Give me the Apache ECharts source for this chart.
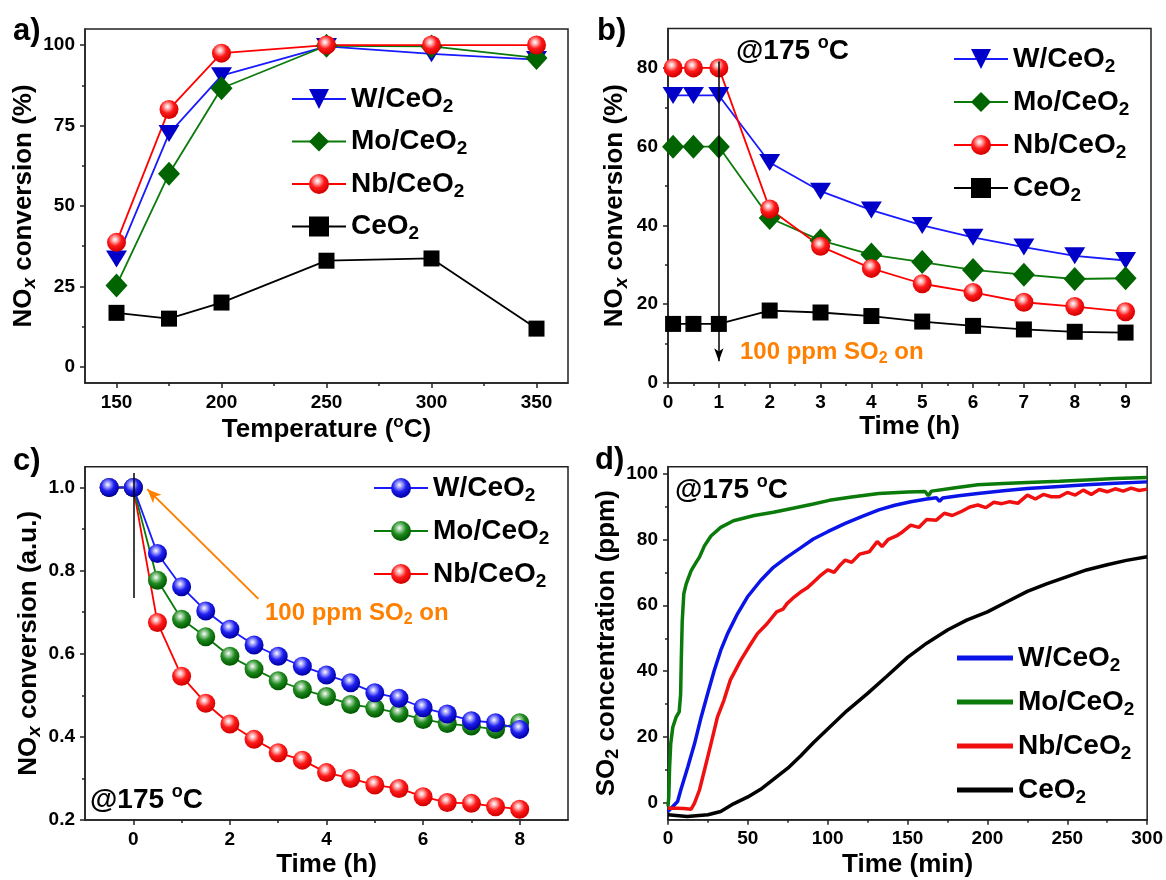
<!DOCTYPE html>
<html><head><meta charset="utf-8">
<script src="https://cdn.jsdelivr.net/npm/echarts@6/dist/echarts.min.js"></script>
<style>html,body{margin:0;padding:0;background:#fff}#c{width:1166px;height:880px}</style>
</head><body><div id="c"></div>
<script>
// ---------- Panel a: NOx conversion vs temperature ----------
const aTemp = [150, 175, 200, 250, 300, 350];
const aW  = [33.5, 72.5, 90.5, 99.6, 97.3, 95.5];
const aMo = [25.3, 60, 86.6, 99.8, 99.6, 96];
const aNb = [38.7, 80, 97.5, 100, 100, 100];
const aCe = [16.8, 15, 20, 33, 33.7, 11.9];
const aXTicks = [150, 200, 250, 300, 350];
const aXMinor = [175, 225, 275, 325];
const aYTicks = [0, 25, 50, 75, 100];
const aYMinor = [12.5, 37.5, 62.5, 87.5];

// ---------- Panel b: NOx conversion vs time (SO2 on at 1 h) ----------
const bTime = [0.1, 0.5, 1, 2, 3, 4, 5, 6, 7, 8, 9];
const bW  = [73, 73, 73, 56, 48.7, 43.9, 40, 37, 34.5, 32.3, 31.1];
const bMo = [60, 60, 60, 41.9, 36.2, 32.6, 30.7, 28.7, 27.5, 26.4, 26.6];
const bNb = [80, 80, 80, 44.2, 34.7, 29.1, 25.2, 23, 20.5, 19.4, 18.1];
const bCe = [15, 15, 15, 18.4, 17.9, 17, 15.6, 14.5, 13.6, 13, 12.8];
const bXTicks = [0, 1, 2, 3, 4, 5, 6, 7, 8, 9];
const bXMinor = [0.5, 1.5, 2.5, 3.5, 4.5, 5.5, 6.5, 7.5, 8.5];
const bYTicks = [0, 20, 40, 60, 80];
const bYMinor = [10, 30, 50, 70];
const bArrow = [[1, 81.6], [1, 5.5]];

// ---------- Panel c: normalized NOx conversion ----------
const cTime = [-0.5, 0, 0.5, 1, 1.5, 2, 2.5, 3, 3.5, 4, 4.5, 5, 5.5, 6, 6.5, 7, 7.5, 8];
const cW  = [1.0, 1.0, 0.841, 0.761, 0.703, 0.659, 0.621, 0.594, 0.570, 0.549, 0.530, 0.506, 0.493, 0.470, 0.455, 0.439, 0.434, 0.418];
const cMo = [1.0, 1.0, 0.777, 0.683, 0.641, 0.594, 0.563, 0.535, 0.514, 0.497, 0.478, 0.469, 0.457, 0.442, 0.432, 0.426, 0.418, 0.434];
const cNb = [1.0, 1.0, 0.675, 0.546, 0.481, 0.431, 0.394, 0.362, 0.344, 0.314, 0.300, 0.284, 0.276, 0.256, 0.242, 0.240, 0.232, 0.226];
const cXTicks = [0, 2, 4, 6, 8];
const cXMinor = [1, 3, 5, 7];
const cYTicks = [0.2, 0.4, 0.6, 0.8, 1.0];
const cYMinor = [0.3, 0.5, 0.7, 0.9];
const cVLine = [[0, 1.035], [0, 0.734]];
const cArrow = [[2.59, 0.732], [0.29, 0.996]];

// ---------- Panel d: SO2 breakthrough ----------
const dMoX = [0, 0.5, 1, 1.7, 3, 5, 7, 7.9, 8.3, 8.9, 9.9, 11.4, 14.5, 17.6, 19.7, 22.8, 26.9, 33, 41, 54, 66, 79, 91, 101, 115, 132, 150, 161, 163, 165, 180, 194, 210, 225, 245, 262, 280, 300];
const dMoY = [-1, 2, 11, 18, 23, 26, 27.7, 33, 43, 55, 63.5, 66.5, 70.5, 73, 74.6, 78, 81, 83.6, 85.6, 87.2, 88.2, 89.5, 90.7, 91.8, 92.8, 93.9, 94.3, 94.5, 93.2, 94.6, 95.6, 96.5, 96.9, 97.2, 97.6, 98, 98.4, 98.7];
const dWX = [0, 3, 6, 8, 12.4, 16.6, 20.7, 24.8, 29, 33, 37.3, 43.5, 49.7, 58, 66, 74.5, 83, 91, 100, 111, 122, 132, 142, 152, 162, 168, 170, 172, 182, 194, 210, 225, 245, 262, 280, 300];
const dWY = [-2.5, -1, 0.5, 4, 11, 18, 26, 33.2, 40.3, 46.3, 51.4, 57.4, 62.5, 67.5, 71.5, 74.6, 77.4, 80.1, 82.3, 84.8, 87, 88.9, 90.3, 91.4, 92.2, 92.6, 91.5, 92.5, 93.2, 93.9, 94.7, 95.4, 96, 96.5, 97, 97.4];
const dNbX = [0, 6, 10, 14.5, 16.6, 19.7, 22.8, 26.9, 31, 35, 39, 45.5, 52, 56, 62, 68, 72, 74.5, 79, 83, 87, 91, 95, 100, 104, 108, 111, 115, 120, 126, 131, 134, 138, 143, 147, 152, 157, 162, 168, 173, 178, 184, 189, 194, 199, 204, 209, 214, 219, 225, 230, 235, 240, 245, 250, 255, 260, 265, 270, 275, 280, 285, 290, 295, 300];
const dNbY = [-1.5, -1.5, -1.6, -1.8, 0, 4, 10, 18, 26.2, 31.2, 37.3, 43.3, 48.4, 51.4, 54.4, 58, 58.8, 60.5, 62.5, 64, 65.2, 67, 68.8, 70.7, 70, 72.3, 73.7, 73, 75.5, 76.2, 79.3, 77.8, 80, 81, 82.3, 84.3, 83.6, 86, 85.8, 87.9, 87.2, 88.5, 89.8, 90.4, 89.6, 91.2, 90.8, 91.4, 90.9, 93.4, 92.2, 93.6, 92.9, 92.9, 94.2, 93.4, 94.9, 93.6, 95.1, 94.4, 95.3, 94.6, 95.5, 94.8, 95.2];
const dCeX = [0, 12, 25, 33, 41, 50, 58, 66, 75, 83, 91, 100, 112, 125, 137, 150, 162, 175, 187, 200, 212, 225, 237, 250, 262, 275, 287, 300];
const dCeY = [-3.5, -4, -3.5, -2.5, -0.2, 1.9, 4.2, 7.2, 10.6, 14.3, 18.3, 22.5, 28, 33.3, 38.5, 44.2, 48.5, 52.5, 55.5, 58, 61, 64.2, 66.5, 68.7, 70.7, 72.3, 73.6, 74.7];
const dXTicks = [0, 50, 100, 150, 200, 250, 300];
const dXMinor = [25, 75, 125, 175, 225, 275];
const dYTicks = [0, 20, 40, 60, 80, 100];
const dYMinor = [10, 30, 50, 70, 90];

// ---------- helpers ----------
const FONT = 'Liberation Sans';
const AX = '#222';
const zip = (xs, ys) => xs.map((x, i) => [x, ys[i]]);
const sphere = (light, mid, dark) => ({
  type: 'radial', x: 0.42, y: 0.35, r: 0.62,
  colorStops: [{offset: 0, color: '#ffffff'}, {offset: 0.18, color: light}, {offset: 0.55, color: mid}, {offset: 1, color: dark}]
});
const RED_S = sphere('#ffc0c0', '#ff1a1a', '#d40000');
const BLUE_S = sphere('#b4b4ff', '#2020f0', '#0000a8');
const GREEN_S = sphere('#b0d8b0', '#1f8a1f', '#005a00');

const NAME_RICH = {
  b: {fontFamily: FONT, fontWeight: 'bold', fontSize: 26, color: '#000'},
  x: {fontFamily: FONT, fontWeight: 'bold', fontStyle: 'italic', fontSize: 19, color: '#000', padding: [13, 0, 0, 0]},
  s: {fontFamily: FONT, fontWeight: 'bold', fontSize: 18, color: '#000', padding: [14, 0, 0, 0]},
  o: {fontFamily: FONT, fontWeight: 'bold', fontSize: 17, color: '#000', padding: [0, 0, 14, 0]}
};

const xAxes = [], yAxes = [], grids = [];
function panel(gi, left, top, w, h, x, y) {
  grids.push({left, top, width: w, height: h, show: true, borderColor: AX, borderWidth: 1.5, backgroundColor: 'transparent'});
  const mk = (o, isY) => {
    const main = {
      type: 'value', gridIndex: gi, min: o.min, max: o.max, position: isY ? 'left' : 'bottom',
      axisLine: {show: true, onZero: false, lineStyle: {color: AX, width: 1.5}},
      axisTick: {show: true, customValues: o.ticks, length: 5, lineStyle: {color: AX, width: 1.5}},
      axisLabel: {show: true, customValues: o.ticks, formatter: o.fmt, margin: 10, fontFamily: FONT, fontWeight: 'bold', fontSize: 19, color: '#000'},
      splitLine: {show: false},
      name: o.name, nameLocation: 'middle', nameGap: o.gap,
      nameTextStyle: {fontFamily: FONT, fontWeight: 'bold', fontSize: 26, color: '#000', rich: NAME_RICH}
    };
    const minor = {
      type: 'value', gridIndex: gi, min: o.min, max: o.max, position: isY ? 'left' : 'bottom',
      axisLine: {show: false, onZero: false},
      axisTick: {show: true, customValues: o.minor, length: 3, lineStyle: {color: AX, width: 1.5}},
      axisLabel: {show: false}, splitLine: {show: false}
    };
    return [main, minor];
  };
  xAxes.push(...mk(x, false));
  yAxes.push(...mk(y, true));
}

panel(0, 85, 29, 483, 354,
  {min: 135, max: 365, ticks: aXTicks, minor: aXMinor, fmt: v => String(v), name: '{b|Temperature (}{o|o}{b|C)}', gap: 31},
  {min: -5, max: 105, ticks: aYTicks, minor: aYMinor, fmt: v => String(v), name: '{b|NO}{x|x}{b| conversion (%)}', gap: 40});
panel(1, 668, 28.5, 483, 354.5,
  {min: 0, max: 9.5, ticks: bXTicks, minor: bXMinor, fmt: v => String(v), name: '{b|Time (h)}', gap: 31},
  {min: 0, max: 90, ticks: bYTicks, minor: bYMinor, fmt: v => String(v), name: '{b|NO}{x|x}{b| conversion (%)}', gap: 37});
panel(2, 85, 466.7, 483, 353.3,
  {min: -1, max: 9, ticks: cXTicks, minor: cXMinor, fmt: v => String(v), name: '{b|Time (h)}', gap: 32},
  {min: 0.2, max: 1.05, ticks: cYTicks, minor: cYMinor, fmt: v => v.toFixed(1), name: '{b|NO}{x|x}{b| conversion (a.u.)}', gap: 40});
panel(3, 668, 466.7, 483, 353,
  {min: 0, max: 300, ticks: dXTicks, minor: dXMinor, fmt: v => String(v), name: '{b|Time (min)}', gap: 32},
  {min: -5, max: 102, ticks: dYTicks, minor: dYMinor, fmt: v => String(v), name: '{b|SO}{s|2}{b| concentration (ppm)}', gap: 37});

const STY = {
  W:  {symbol: 'triangle', symbolSize: [21, 17], symbolRotate: 180, itemStyle: {color: '#0000c8'}, lineStyle: {color: '#1a1aff', width: 1.8}},
  Mo: {symbol: 'diamond', symbolSize: [22, 24], itemStyle: {color: '#006400'}, lineStyle: {color: '#0a7a0a', width: 1.8}},
  Nb: {symbol: 'circle', symbolSize: 19, itemStyle: {color: RED_S}, lineStyle: {color: '#ff0000', width: 1.8}},
  Ce: {symbol: 'rect', symbolSize: 16, itemStyle: {color: '#000'}, lineStyle: {color: '#000', width: 1.8}}
};
function ser(name, gi, xs, ys, sty, extra) {
  return Object.assign({name, type: 'line', xAxisIndex: 2 * gi, yAxisIndex: 2 * gi, data: zip(xs, ys), showSymbol: true, clip: false,
    emphasis: {disabled: true}}, sty, extra || {});
}
const markStyle = (data, color, w, sym, size) => ({
  silent: true, animation: false, symbol: sym, symbolSize: size, label: {show: false},
  lineStyle: {color, width: w, type: 'solid'}, emphasis: {disabled: true},
  data: [[{coord: data[0]}, {coord: data[1]}]]
});

const series = [
  ser('aW', 0, aTemp, aW, STY.W), ser('aMo', 0, aTemp, aMo, STY.Mo), ser('aNb', 0, aTemp, aNb, STY.Nb), ser('aCe', 0, aTemp, aCe, STY.Ce),
  ser('bW', 1, bTime, bW, STY.W), ser('bMo', 1, bTime, bMo, STY.Mo), ser('bNb', 1, bTime, bNb, STY.Nb),
  ser('bCe', 1, bTime, bCe, STY.Ce, {markLine: markStyle(bArrow, '#000', 1.5, ['none', 'arrow'], [7, 13])}),
  ser('cNb', 2, cTime, cNb, {symbol: 'circle', symbolSize: 19, itemStyle: {color: RED_S}, lineStyle: {color: '#ff0000', width: 1.8}},
      {markLine: markStyle(cVLine, '#000', 1.5, ['none', 'none'], 1)}),
  ser('cMo', 2, cTime, cMo, {symbol: 'circle', symbolSize: 19, itemStyle: {color: GREEN_S}, lineStyle: {color: '#0a7a0a', width: 1.8}},
      {markLine: markStyle(cArrow, '#ff8000', 2, ['none', 'arrow'], [9, 14])}),
  ser('cW', 2, cTime, cW, {symbol: 'circle', symbolSize: 19, itemStyle: {color: BLUE_S}, lineStyle: {color: '#1a1aff', width: 1.8}}),
  ser('dW', 3, dWX, dWY, {symbol: 'none', itemStyle: {color: '#0a14e6'}, lineStyle: {color: '#0a14e6', width: 3.5}}),
  ser('dMo', 3, dMoX, dMoY, {symbol: 'none', itemStyle: {color: '#0a7a0a'}, lineStyle: {color: '#0a7a0a', width: 3.5}}),
  ser('dNb', 3, dNbX, dNbY, {symbol: 'none', itemStyle: {color: '#f01010'}, lineStyle: {color: '#f01010', width: 3.5}}),
  ser('dCe', 3, dCeX, dCeY, {symbol: 'none', itemStyle: {color: '#000'}, lineStyle: {color: '#000', width: 3.5}})
];

const LABEL = {W: '{b|W/CeO}{s|2}', Mo: '{b|Mo/CeO}{s|2}', Nb: '{b|Nb/CeO}{s|2}', Ce: '{b|CeO}{s|2}'};
const LEG_RICH = {
  b: {fontFamily: FONT, fontWeight: 'bold', fontSize: 28, color: '#000'},
  s: {fontFamily: FONT, fontWeight: 'bold', fontSize: 19, color: '#000', padding: [15, 0, 0, 0]}
};
const legend = (names, left, top, opts) => Object.assign({
  orient: 'vertical', left, top, padding: 0, itemGap: 12, itemWidth: 54, itemHeight: 25, selectedMode: false,
  data: names, formatter: n => LABEL[n.slice(1)], textStyle: {rich: LEG_RICH}
}, opts || {});

const TXT = (x, y, text, size, color, rich) => ({
  type: 'text', x, y, silent: true,
  style: {text, fill: color, font: 'bold ' + size + 'px "' + FONT + '"', align: 'left', verticalAlign: 'middle', rich}
});
const R28 = {
  b: {fontFamily: FONT, fontWeight: 'bold', fontSize: 28, fill: '#000'},
  o: {fontFamily: FONT, fontWeight: 'bold', fontSize: 18, fill: '#000', padding: [0, 0, 15, 0]}
};
const R24 = {
  b: {fontFamily: FONT, fontWeight: 'bold', fontSize: 24, fill: '#ff8000'},
  s: {fontFamily: FONT, fontWeight: 'bold', fontSize: 16, fill: '#ff8000', padding: [13, 0, 0, 0]}
};

const chart = echarts.init(document.getElementById('c'), null, {renderer: 'canvas'});
chart.setOption({
  animation: false,
  backgroundColor: '#fff',
  textStyle: {fontFamily: FONT},
  grid: grids, xAxis: xAxes, yAxis: yAxes, series,
  legend: [
    legend(['aW', 'aMo', 'aNb', 'aCe'], 291, 85, {itemGap: 11.5}),
    legend(['bW', 'bMo', 'bNb', 'bCe'], 953, 45),
    legend(['cW', 'cMo', 'cNb'], 373, 474),
    legend(['dW', 'dMo', 'dNb', 'dCe'], 957, 644, {icon: 'rect', itemHeight: 5, itemWidth: 56, itemGap: 13})
  ],
  graphic: [
    TXT(13, 31, 'a)', 31, '#000'), TXT(597, 31, 'b)', 31, '#000'),
    TXT(13, 461, 'c)', 31, '#000'), TXT(595, 460, 'd)', 31, '#000'),
    TXT(736, 51, '{b|@175 }{o|o}{b|C}', 28, '#000', R28),
    TXT(90, 800, '{b|@175 }{o|o}{b|C}', 28, '#000', R28),
    TXT(675, 490, '{b|@175 }{o|o}{b|C}', 28, '#000', R28),
    TXT(740, 352, '{b|100 ppm SO}{s|2}{b| on}', 24, '#ff8000', R24),
    TXT(265, 613, '{b|100 ppm SO}{s|2}{b| on}', 24, '#ff8000', R24)
  ]
});
</script></body></html>
